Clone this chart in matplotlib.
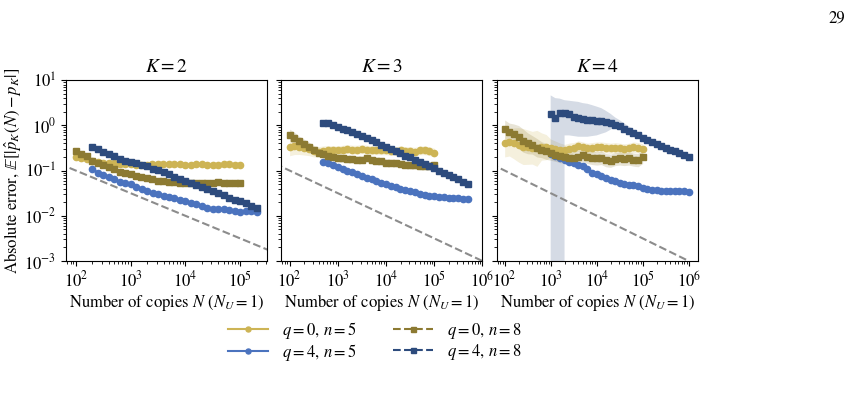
import numpy as np
import matplotlib
matplotlib.use('Agg')
import matplotlib.pyplot as plt
from matplotlib.ticker import LogLocator

plt.rcParams['font.family'] = 'STIXGeneral'
plt.rcParams['mathtext.fontset'] = 'stix'

# sampling grid (relative to the first N of each curve), 10 points per decade
N_steps = [1, 1.26, 1.58, 2, 2.51, 3.16, 3.98, 5.01, 6.31, 7.94,
           10, 12.6, 15.8, 20, 25.1, 31.6, 39.8, 50.1, 63.1, 79.4,
           100, 126, 158, 200, 251, 316, 398, 501, 631, 794, 1000]

Ks = [2, 3, 4]
start_q0 = [100, 100, 100]      # first N of q=0 curves
start_q4 = [200, 500, 1000]     # first N of q=4 curves

# ---- K = 2 ----
k2_q0n5 = [0.20, 0.19, 0.18, 0.165, 0.155, 0.15, 0.147, 0.144, 0.143, 0.138,
           0.137, 0.135, 0.133, 0.135, 0.139, 0.143, 0.137, 0.137, 0.137, 0.137,
           0.135, 0.131, 0.137, 0.137, 0.135, 0.133, 0.131, 0.137, 0.143, 0.135, 0.131]
k2_q0n8 = [0.274, 0.227, 0.209, 0.165, 0.149, 0.135, 0.122, 0.106, 0.094, 0.087,
           0.082, 0.076, 0.073, 0.070, 0.066, 0.060, 0.059, 0.057, 0.055, 0.052,
           0.052, 0.052, 0.052, 0.054, 0.054, 0.054, 0.057, 0.052, 0.052, 0.054, 0.054]
k2_q4n5 = [0.110, 0.0895, 0.081, 0.073, 0.066, 0.0557, 0.052, 0.0494, 0.044, 0.039,
           0.0358, 0.0313, 0.0297, 0.0278, 0.0264, 0.0247, 0.0223, 0.0208, 0.0195, 0.0182,
           0.0164, 0.0146, 0.0144, 0.0141, 0.0139, 0.0134, 0.0125, 0.0123, 0.0127, 0.0125, 0.0123]
k2_q4n8 = [0.325, 0.299, 0.261, 0.232, 0.209, 0.182, 0.165, 0.151, 0.144, 0.135,
           0.126, 0.110, 0.103, 0.091, 0.0837, 0.073, 0.0649, 0.0586, 0.0538, 0.0486,
           0.0432, 0.0383, 0.0352, 0.0318, 0.0288, 0.0251, 0.0227, 0.0215, 0.0191, 0.0164, 0.0151]

# ---- K = 3 ----
k3_q0n5 = [0.34, 0.35, 0.34, 0.32, 0.30, 0.27, 0.26, 0.27, 0.28, 0.28,
           0.28, 0.29, 0.30, 0.29, 0.29, 0.30, 0.29, 0.28, 0.28, 0.28,
           0.28, 0.27, 0.27, 0.28, 0.27, 0.27, 0.26, 0.28, 0.28, 0.27, 0.25]
k3_q0n8 = [0.61, 0.52, 0.44, 0.38, 0.33, 0.28, 0.25, 0.23, 0.21, 0.20,
           0.19, 0.185, 0.18, 0.178, 0.175, 0.175, 0.19, 0.17, 0.165, 0.16,
           0.15, 0.148, 0.145, 0.14, 0.135, 0.13, 0.13, 0.125, 0.125, 0.128, 0.135]
k3_q4n5 = [0.157, 0.145, 0.13, 0.12, 0.11, 0.10, 0.092, 0.083, 0.076, 0.07,
           0.064, 0.059, 0.054, 0.050, 0.046, 0.043, 0.040, 0.037, 0.035, 0.033,
           0.031, 0.029, 0.028, 0.027, 0.026, 0.026, 0.025, 0.025, 0.025, 0.024, 0.024]
k3_q4n8 = [1.14, 1.10, 1.00, 0.92, 0.85, 0.78, 0.72, 0.65, 0.59, 0.52,
           0.47, 0.42, 0.37, 0.33, 0.30, 0.27, 0.24, 0.215, 0.195, 0.175,
           0.155, 0.14, 0.125, 0.112, 0.10, 0.09, 0.08, 0.072, 0.064, 0.057, 0.051]

# ---- K = 4 ----
k4_q0n5 = [0.40, 0.42, 0.40, 0.37, 0.34, 0.33, 0.32, 0.31, 0.34, 0.33,
           0.31, 0.30, 0.29, 0.28, 0.30, 0.32, 0.35, 0.33, 0.31, 0.32,
           0.33, 0.33, 0.32, 0.31, 0.32, 0.31, 0.30, 0.31, 0.33, 0.32, 0.30]
k4_q0n8 = [0.82, 0.70, 0.63, 0.55, 0.46, 0.40, 0.37, 0.32, 0.29, 0.265,
           0.245, 0.225, 0.21, 0.20, 0.19, 0.19, 0.20, 0.22, 0.20, 0.19,
           0.185, 0.19, 0.17, 0.165, 0.18, 0.185, 0.18, 0.185, 0.175, 0.17, 0.20]
k4_q4n5 = [0.23, 0.21, 0.19, 0.17, 0.155, 0.145, 0.135, 0.125, 0.11, 0.09,
           0.082, 0.074, 0.067, 0.062, 0.058, 0.054, 0.051, 0.049, 0.047, 0.045,
           0.042, 0.040, 0.038, 0.037, 0.036, 0.036, 0.036, 0.035, 0.036, 0.035, 0.034]
k4_q4n8 = [1.77, 1.45, 1.90, 1.90, 1.75, 1.50, 1.45, 1.40, 1.30, 1.30,
           1.22, 1.25, 1.20, 1.14, 1.04, 0.95, 0.85, 0.75, 0.67, 0.60,
           0.53, 0.47, 0.42, 0.39, 0.35, 0.32, 0.29, 0.27, 0.24, 0.225, 0.20]

# spread of the shaded bands (multiplicative factor around the curve)
k2_spread = [1.15, 1.12, 1.12, 1.08]
k3_spread_q0n5 = [1.6, 1.55, 1.5, 1.45, 1.4, 1.35, 1.3, 1.3, 1.28, 1.26] + [1.25] * 21
k3_spread_q0n8 = [1.35, 1.35, 1.3, 1.3, 1.28, 1.25, 1.22, 1.2, 1.2, 1.2] + [1.2] * 21
k3_spread_q4 = [1.12, 1.1]
k4_spread_q0n5 = [2.0, 2.0, 2.2, 2.4, 2.5, 2.4, 2.3, 2.5, 2.0, 1.9,
                  1.6, 1.5, 1.4, 1.35, 1.35] + [1.3] * 16
k4_spread_q0n8 = [1.6, 1.6, 1.7, 1.8, 1.8, 1.7, 1.6, 1.6, 1.5, 1.5,
                  1.45] + [1.4] * 20
k4_spread_q4n5 = 1.12
# K=4, q=4, n=8 has a very wide, asymmetric band (lower bound hits zero)
k4_q4n8_lo = [0, 0, 0, 0.6, 0.6, 0.58, 0.56, 0.56, 0.56, 0.58,
              0.6, 0.65, 0.7, 0.8, 0.9, 0.85, 0.76, 0.67, 0.6, 0.53,
              0.47, 0.42, 0.37, 0.34, 0.31, 0.28, 0.255, 0.235, 0.21, 0.195, 0.175]
k4_q4n8_hi = [4.6, 4.0, 3.9, 3.6, 3.5, 3.4, 3.3, 3.1, 3.0, 2.8,
              2.6, 2.4, 2.1, 1.8, 1.5, 1.3, 1.1, 0.95, 0.8, 0.7,
              0.62, 0.55, 0.49, 0.45, 0.4, 0.37, 0.33, 0.31, 0.28, 0.26, 0.23]

# reference 1/sqrt(N) line, end points
ref_N = [50, 1e6]
ref_err = [0.1414, 0.001]

labels = ['$q=0$, $n=5$', '$q=4$, $n=5$', '$q=0$, $n=8$', '$q=4$, $n=8$']
colors = ['#cdb455', '#4b73be', '#8c7a32', '#2d4b7d']
markers = ['o', 'o', 's', 's']
styles = ['-', '-', '--', '--']

steps = np.array(N_steps)
panels = [
    [k2_q0n5, k2_q4n5, k2_q0n8, k2_q4n8],
    [k3_q0n5, k3_q4n5, k3_q0n8, k3_q4n8],
    [k4_q0n5, k4_q4n5, k4_q0n8, k4_q4n8],
]
spreads = [
    [k2_spread[0], k2_spread[2], k2_spread[1], k2_spread[3]],
    [k3_spread_q0n5, k3_spread_q4[0], k3_spread_q0n8, k3_spread_q4[1]],
    [k4_spread_q0n5, k4_spread_q4n5, k4_spread_q0n8, None],
]
xlims = [(10**1.82, 10**5.49), (10**1.83, 1e6), (10**1.83, 10**6.2)]

fig, axes = plt.subplots(1, 3, figsize=(8.68, 4.11), dpi=100, sharey=True)
fig.subplots_adjust(left=0.076, right=0.804, bottom=0.365, top=0.805, wspace=0.072)

for p, ax in enumerate(axes):
    for i in range(4):
        start = start_q0[p] if i in (0, 2) else start_q4[p]
        N = start * steps
        y = np.array(panels[p][i])
        s = spreads[p][i]
        if s is None:
            lo, hi = np.array(k4_q4n8_lo), np.array(k4_q4n8_hi)
        else:
            s = np.array(s)
            lo, hi = y / s, y * s
        ax.fill_between(N, lo, hi, color=colors[i], alpha=0.2, lw=0)
        ax.plot(N, y, ls=styles[i], marker=markers[i], color=colors[i],
                lw=1.5, ms=4.5, label=labels[i])
    ax.plot(ref_N, ref_err, '--', color='0.55', lw=1.5)
    ax.set_xscale('log')
    ax.set_yscale('log')
    ax.xaxis.set_major_locator(LogLocator(base=10, numticks=12))
    ax.xaxis.set_minor_locator(LogLocator(base=10, subs=np.arange(2, 10), numticks=12))
    ax.set_xlim(*xlims[p])
    ax.set_ylim(1e-3, 10)
    ax.set_title('$K=%d$' % Ks[p], fontsize=14)
    ax.set_xlabel('Number of copies $N$ ($N_U=1$)', fontsize=12, labelpad=1)
    ax.tick_params(labelsize=12)

axes[0].set_ylabel(r'Absolute error, $\mathbb{E}[|\hat{p}_K(N)-p_K|]$', fontsize=12)
axes[0].yaxis.set_label_coords(-0.21, 0.5)

h, l = axes[0].get_legend_handles_labels()
fig.legend(h, l, ncol=2, loc='upper center', bbox_to_anchor=(0.432, 0.258),
           frameon=False, fontsize=12, handlelength=2.4, columnspacing=2.2,
           labelspacing=0.05, markerscale=0.8)

fig.text(0.974, 0.975, '29', ha='right', va='top', fontsize=12)

plt.savefig('out.png', dpi=100)
